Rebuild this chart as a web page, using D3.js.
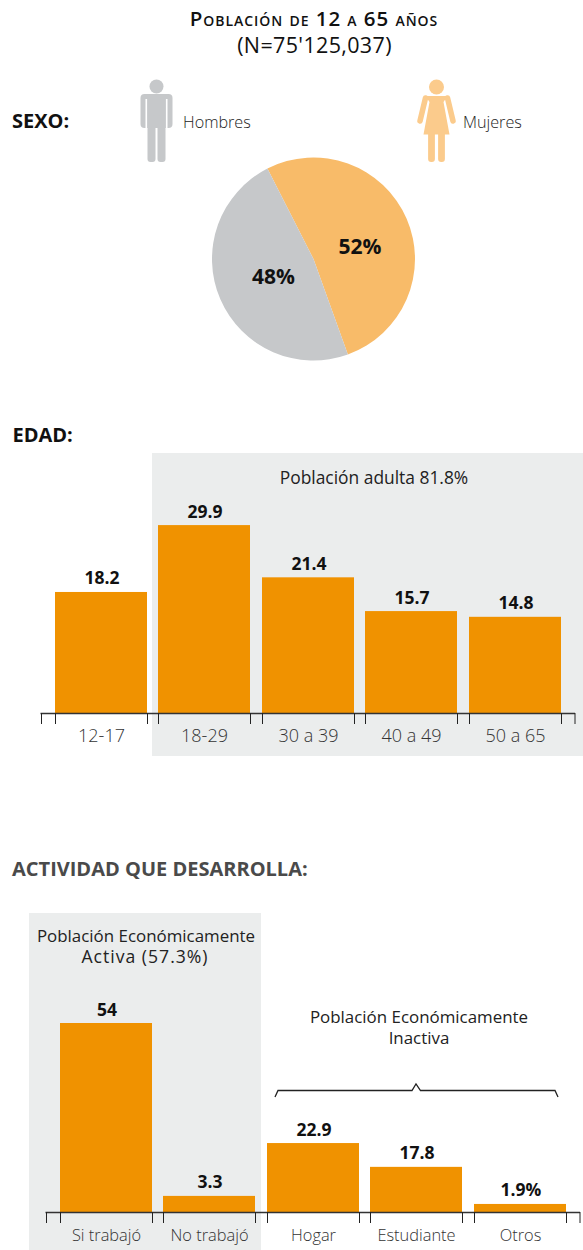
<!DOCTYPE html>
<html><head><meta charset="utf-8">
<script src="https://cdnjs.cloudflare.com/ajax/libs/d3/7.8.5/d3.min.js"></script>
<style>
html,body{margin:0;padding:0;background:#fff}
svg{display:block}
text{font-family:"Open Sans","Noto Sans",sans-serif;fill:#222}
</style></head><body>
<svg id="c" width="583" height="1250"></svg>
<script>
// Pie
const sexoLabels = ["Mujeres", "Hombres"];
const sexoValues = [52, 48];
// Age
const edadCats = ["12-17", "18-29", "30 a 39", "40 a 49", "50 a 65"];
const edadValues = [18.2, 29.9, 21.4, 15.7, 14.8];
// The source's bars are not strictly proportional to its printed labels:
// these are the bar lengths, in axis units.
const edadDrawn = [19.0, 29.5, 21.3, 16.0, 15.1];
// Activity
const actCats = ["Si trabajó", "No trabajó", "Hogar", "Estudiante", "Otros"];
const actValues = [54, 3.3, 22.9, 17.8, 1.9];
const actDrawn = [54, 4.6, 19.7, 12.9, 2.3];

const ORANGE = "#f09200", PANEL = "#ebeded", GREY = "#c6c8ca", PEACH = "#f8bb69";
const svg = d3.select("#c");

function txt(x, y, s, size, opt = {}) {
  return svg.append("text").attr("x", x).attr("y", y).text(s)
    .attr("font-size", size)
    .attr("text-anchor", opt.anchor || "middle")
    .attr("font-weight", opt.weight || 400)
    .style("fill", opt.fill || "#222");
}

// Title
txt(314, 26, "Población de 12 a 65 años", 20.5, {weight: 600}).style("font-variant", "small-caps").style("fill", "#111").style("letter-spacing", "0.95px");
txt(314.5, 52.5, "(N=75'125,037)", 21.5).style("fill", "#111").style("letter-spacing", "0.35px");

// Section titles
txt(12, 128, "SEXO:", 20, {anchor: "start", weight: 700}).style("fill", "#111");
txt(12.5, 442, "EDAD:", 20, {anchor: "start", weight: 700}).style("fill", "#111");
txt(12, 875.5, "ACTIVIDAD QUE DESARROLLA:", 20, {anchor: "start", weight: 700, fill: "#4a4a4a"});

// Icons
function man(x) {
  const g = svg.append("g").attr("fill", GREY);
  g.append("circle").attr("cx", x).attr("cy", 86.5).attr("r", 7);
  g.append("rect").attr("x", x - 16).attr("y", 94).attr("width", 32).attr("height", 34).attr("rx", 4);
  g.append("rect").attr("x", x - 9).attr("y", 100).attr("width", 18).attr("height", 26);
  g.append("rect").attr("x", x - 9).attr("y", 115).attr("width", 8).attr("height", 47).attr("rx", 3);
  g.append("rect").attr("x", x + 1).attr("y", 115).attr("width", 8).attr("height", 47).attr("rx", 3);
  g.append("rect").attr("x", x - 11).attr("y", 99).attr("width", 1.6).attr("height", 30).attr("fill", "#fff");
  g.append("rect").attr("x", x + 9.4).attr("y", 99).attr("width", 1.6).attr("height", 30).attr("fill", "#fff");
}
man(156.5);
function woman(x) {
  const g = svg.append("g").attr("fill", "#fbcb8c");
  g.append("circle").attr("cx", x).attr("cy", 87).attr("r", 7.5);
  g.append("path").attr("d", `M${x-11} 96H${x+11}L${x+7} 102L${x+13} 134.5H${x-13}L${x-7} 102Z`);
  g.append("path").attr("d", `M${x-11} 98L${x-16.5} 121`).attr("stroke", "#fbcb8c").attr("stroke-width", 5.5).attr("stroke-linecap", "round");
  g.append("path").attr("d", `M${x+11} 98L${x+16.5} 121`).attr("stroke", "#fbcb8c").attr("stroke-width", 5.5).attr("stroke-linecap", "round");
  g.append("rect").attr("x", x - 8.4).attr("y", 130).attr("width", 6.8).attr("height", 32).attr("rx", 3);
  g.append("rect").attr("x", x + 1.6).attr("y", 130).attr("width", 6.8).attr("height", 32).attr("rx", 3);
}
woman(436.5);
txt(183, 128, "Hombres", 16.2, {anchor: "start", weight: 300});
txt(463, 128, "Mujeres", 16.2, {anchor: "start", weight: 300});

// Pie
const pie = d3.pie().sort(null).startAngle(-27 * Math.PI / 180).endAngle(333 * Math.PI / 180)(sexoValues);
const arc = d3.arc().innerRadius(0).outerRadius(101.5);
const pg = svg.append("g").attr("transform", "translate(313.5,259)");
pg.selectAll("path").data(pie).join("path").attr("d", arc).attr("fill", (d, i) => i ? GREY : PEACH);
txt(360, 254, sexoValues[0] + "%", 21, {weight: 700}).style("fill", "#111");
txt(273.5, 284, sexoValues[1] + "%", 21, {weight: 700}).style("fill", "#111");

function barChart({cats, values, drawn, bands, base, pxPerUnit, barW, format, catSize}) {
  const y = d3.scaleLinear().domain([0, 1]).range([base, base - pxPerUnit]);
  const g = svg.append("g");
  g.selectAll("rect").data(cats).join("rect")
    .attr("x", (d, i) => bands[i]).attr("width", barW)
    .attr("y", (d, i) => y(drawn[i])).attr("height", (d, i) => base - y(drawn[i]))
    .attr("fill", ORANGE);
  cats.forEach((c, i) => {
    txt(bands[i] + barW / 2 + 1, y(drawn[i]) - 7.5, format(values[i], i), 17.5, {weight: 700}).style("fill", "#111");
    txt(bands[i] + barW / 2 + 0.5, base + 29, c, catSize, {weight: 300, fill: "#333"});
  });
  // Axis
  const left = bands[0] - 14, right = bands[bands.length - 1] + barW + 13.5;
  const ax = d3.scaleLinear().domain([left, right]).range([left, right]);
  const ticks = [left];
  bands.forEach(b => ticks.push(b, b + barW));
  ticks.push(right);
  const a = d3.axisBottom(ax).tickValues(ticks).tickSize(11).tickFormat("");
  const ag = svg.append("g").attr("transform", `translate(0,${base})`).call(a);
  ag.selectAll("path").attr("stroke", "#333").attr("stroke-width", 1.5).attr("d", `M${left - .5},0.5H${right + .5}`);
  ag.selectAll("line").attr("stroke", "#222").attr("stroke-width", 1);
}

// Panels
svg.insert("rect", ":first-child").attr("x", 152).attr("y", 453).attr("width", 431).attr("height", 303).attr("fill", PANEL);
svg.insert("rect", ":first-child").attr("x", 29).attr("y", 913).attr("width", 232).attr("height", 337).attr("fill", PANEL);

txt(374, 484, "Población adulta 81.8%", 17.4);
barChart({cats: edadCats, values: edadValues, drawn: edadDrawn,
  bands: [55, 158, 262, 365, 469], base: 713, pxPerUnit: 6.37, barW: 92, catSize: 18,
  format: v => v.toFixed(1)});

txt(146, 942, "Población Económicamente", 16.9);
txt(145, 963, "Activa (57.3%)", 17.6).style("letter-spacing", "1px");
txt(419, 1023, "Población Económicamente", 16.9);
txt(419, 1044, "Inactiva", 16.9);

// Brace
svg.append("path").attr("fill", "none").attr("stroke", "#222").attr("stroke-width", 1.3)
  .attr("d", "M275 1097L278 1090.5H412L416 1084L420.5 1090.5H555L558 1097");

barChart({cats: actCats, values: actValues, drawn: actDrawn,
  bands: [60, 163, 267, 370, 474], base: 1212, pxPerUnit: 3.5, barW: 92, catSize: 16.4,
  format: (v, i) => i === 4 ? v + "%" : String(v)});
</script>
</body></html>
